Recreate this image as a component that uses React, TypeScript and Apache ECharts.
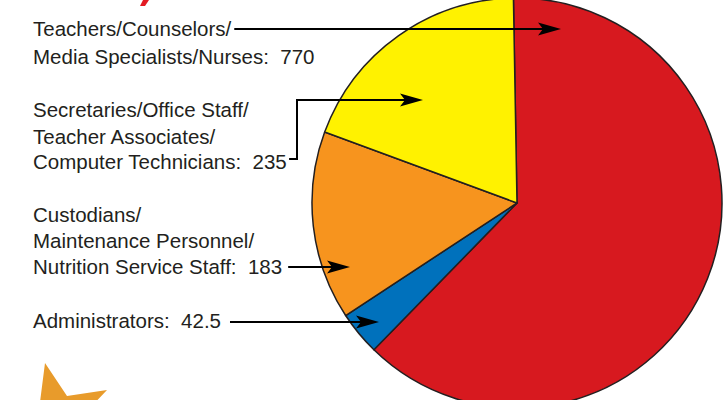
import React, { useEffect, useRef } from "react";
import * as echarts from "echarts";

const categories = [
  "Teachers/Counselors/Media Specialists/Nurses",
  "Administrators",
  "Custodians/Maintenance Personnel/Nutrition Service Staff",
  "Secretaries/Office Staff/Teacher Associates/Computer Technicians",
];
const values = [770, 42.5, 183, 235];
const colors = ["#D7191F", "#0071BC", "#F7941E", "#FFF200"];

const labelLines = [
  ["Teachers/Counselors/", "Media Specialists/Nurses:"],
  ["Administrators:"],
  ["Custodians/", "Maintenance Personnel/", "Nutrition Service Staff:"],
  ["Secretaries/Office Staff/", "Teacher Associates/", "Computer Technicians:"],
];

const FONT_FAMILY = "'Liberation Sans', Arial, sans-serif";
const FONT = `20.5px ${FONT_FAMILY}`;
const TEXT_COLOR = "#231F20";
const TEXT_X = 33;

function measure(text: string): number {
  const c = document.createElement("canvas").getContext("2d");
  if (!c) return text.length * 10;
  c.font = FONT;
  return c.measureText(text).width;
}

function textEl(x: number, y: number, text: string) {
  return {
    type: "text",
    x,
    y,
    z: 100,
    style: {
      text,
      fill: TEXT_COLOR,
      font: FONT,
      align: "left",
      verticalAlign: "middle",
    },
  };
}

function arrowHead(tx: number, ty: number) {
  return {
    type: "polygon",
    z: 100,
    shape: {
      points: [
        [tx, ty],
        [tx - 23, ty - 6.5],
        [tx - 18, ty],
        [tx - 23, ty + 6.5],
      ],
    },
    style: { fill: "#000" },
  };
}

function line(points: number[][]) {
  return {
    type: "polyline",
    z: 100,
    shape: { points },
    style: { stroke: "#000", lineWidth: 2, fill: null },
  };
}

export default function App() {
  const ref = useRef<HTMLDivElement>(null);
  useEffect(() => {
    if (!ref.current) return;
    const chart = echarts.init(ref.current, undefined, { renderer: "svg" });
    const lineYs = [
      [28.5, 56.5],
      [320.5],
      [214.5, 240, 266],
      [109.5, 136, 161.5],
    ];
    const texts: any[] = [];
    const strs: string[][] = [];
    labelLines.forEach((lines, i) => {
      strs.push([]);
      lines.forEach((t, j) => {
        const last = j === lines.length - 1;
        const s = last ? `${t}  ${values[i]}` : t;
        strs[i].push(s);
        texts.push(textEl(TEXT_X, lineYs[i][j], s));
      });
    });
    const end = (i: number, j: number) => TEXT_X + measure(strs[i][j]);
    const e1 = end(0, 0);
    const e2 = end(3, 2);
    const e3 = end(2, 2);
    const e4 = end(1, 0);
    const vx = Math.max(297, e2 + 8);
    const graphics: any[] = [
      ...texts,
      line([[e1 + 3, 29], [545, 29]]),
      arrowHead(561, 29),
      line([[e2 + 2, 159], [vx, 159], [vx, 100], [408, 100]]),
      arrowHead(423, 100),
      line([[e3 + 6, 267], [335, 267]]),
      arrowHead(350, 267),
      line([[e4 + 9, 322], [364, 322]]),
      arrowHead(379, 322),
      {
        type: "polygon",
        z: 100,
        shape: { points: [[143, 0], [149, 0], [145, 6], [140, 6]] },
        style: { fill: "#E31B23" },
      },
      {
        type: "polygon",
        z: 100,
        shape: {
          points: [[45, 363], [67, 396], [107, 390], [88, 410], [39, 410]],
        },
        style: { fill: "#E89B2B" },
      },
    ];
    chart.setOption({
      animation: false,
      backgroundColor: "#ffffff",
      series: [
        {
          type: "pie",
          center: [517, 203],
          radius: 205,
          startAngle: 91,
          clockwise: true,
          label: { show: false },
          labelLine: { show: false },
          emphasis: { disabled: true },
          itemStyle: { borderColor: "#231F20", borderWidth: 1.5 },
          data: categories.map((name, i) => ({
            name,
            value: values[i],
            itemStyle: { color: colors[i] },
          })),
        },
      ],
      graphic: graphics,
    });
    return () => chart.dispose();
  }, []);
  return (
    <div
      ref={ref}
      style={{ width: 725, height: 400, position: "fixed", left: 0, top: 0 }}
    />
  );
}
